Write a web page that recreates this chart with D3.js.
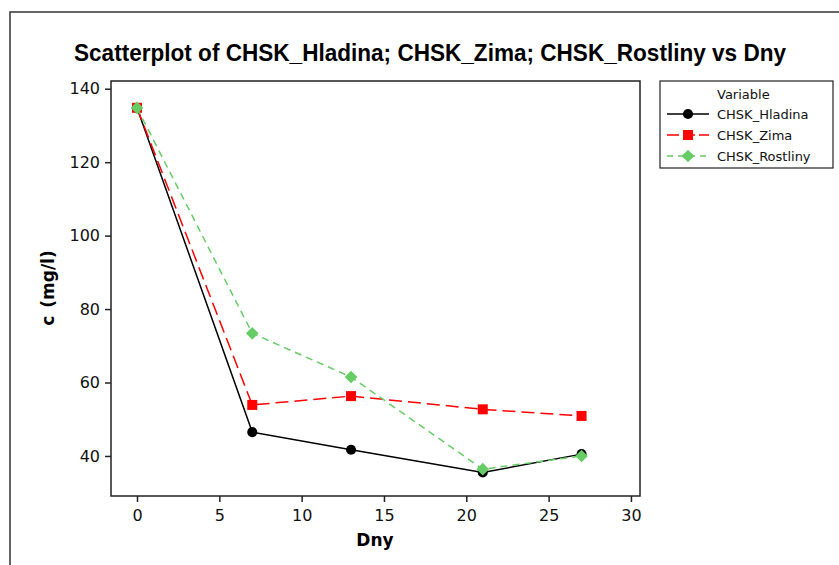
<!DOCTYPE html>
<html>
<head>
<meta charset="utf-8">
<script src="https://cdn.jsdelivr.net/npm/d3@7"></script>
<style>
  html, body { margin: 0; padding: 0; background: #fff; }
  svg { display: block; }
</style>
</head>
<body>
<svg id="chart" width="839" height="565"></svg>
<script>
// Sampling days and measured COD values (mg/l) per series
const days = [0, 7, 13, 21, 27];
const hladina = [134.8, 46.5, 41.7, 35.5, 40.5];
const zima = [134.8, 53.9, 56.3, 52.7, 50.9];
const rostliny = [134.8, 73.4, 61.5, 36.4, 40.0];

const seriesNames = ["CHSK_Hladina", "CHSK_Zima", "CHSK_Rostliny"];
const xTicks = [0, 5, 10, 15, 20, 25, 30];
const yTicks = [40, 60, 80, 100, 120, 140];

const svg = d3.select("#chart");
const W = 839, H = 565;
const plot = { left: 111, right: 640, top: 81, bottom: 496 };

// Outer graph frame (runs off the right and bottom edge)
svg.append("rect")
  .attr("x", 10).attr("y", 12)
  .attr("width", W + 20).attr("height", H + 20)
  .attr("fill", "none").attr("stroke", "#333").attr("stroke-width", 1.5);

const x = d3.scaleLinear().domain([-1.579, 30.55]).range([plot.left, plot.right]);
const y = d3.scaleLinear().domain([29.1, 142.1]).range([plot.bottom, plot.top]);

// Title
svg.append("text")
  .attr("x", 430).attr("y", 61)
  .attr("text-anchor", "middle")
  .attr("font-family", "'Liberation Sans', Arial, sans-serif")
  .attr("font-weight", "bold")
  .attr("font-size", 23)
  .attr("textLength", 712)
  .attr("lengthAdjust", "spacingAndGlyphs")
  .attr("fill", "#000")
  .text("Scatterplot of CHSK_Hladina; CHSK_Zima; CHSK_Rostliny vs Dny");

// Axes
const axisFont = "'DejaVu Sans', sans-serif";
const gx = svg.append("g")
  .attr("transform", `translate(0,${plot.bottom})`)
  .call(d3.axisBottom(x).tickValues(xTicks).tickSize(6).tickSizeOuter(0).tickPadding(8));
const gy = svg.append("g")
  .attr("transform", `translate(${plot.left},0)`)
  .call(d3.axisLeft(y).tickValues(yTicks).tickSize(6).tickSizeOuter(0).tickPadding(5));
[gx, gy].forEach(g => {
  g.select(".domain").remove();
  g.selectAll(".tick line").attr("stroke", "#222").attr("stroke-width", 1.5);
  g.selectAll(".tick text")
    .attr("font-family", axisFont).attr("font-size", 16).attr("fill", "#111");
});

// Plot frame
svg.append("rect")
  .attr("x", plot.left).attr("y", plot.top)
  .attr("width", plot.right - plot.left).attr("height", plot.bottom - plot.top)
  .attr("fill", "none").attr("stroke", "#222").attr("stroke-width", 1.5);

// Axis titles
svg.append("text")
  .attr("x", 375).attr("y", 546)
  .attr("text-anchor", "middle")
  .attr("font-family", axisFont).attr("font-weight", "bold").attr("font-size", 17)
  .text("Dny");
svg.append("text")
  .attr("transform", "translate(54,288) rotate(-90)")
  .attr("text-anchor", "middle")
  .attr("font-family", axisFont).attr("font-weight", "bold").attr("font-size", 17)
  .attr("word-spacing", 2)
  .text("c (mg/l)");

// Series styling
const styles = [
  { values: hladina, color: "#000000", dash: null, legendDash: null, width: 1.5, symbol: d3.symbolCircle, size: 80, rotate: 0 },
  { values: zima, color: "#ff0000", dash: "13,6", legendDash: "12,4", width: 1.5, symbol: d3.symbolSquare, size: 100, rotate: 0 },
  { values: rostliny, color: "#66cc66", dash: "7,5", legendDash: "6,5", width: 1.5, symbol: d3.symbolSquare, size: 80, rotate: 45 }
];

const line = d3.line().x(d => x(d[0])).y(d => y(d[1]));

styles.forEach(s => {
  const pts = days.map((d, i) => [d, s.values[i]]);
  const g = svg.append("g");
  g.append("path")
    .attr("d", line(pts))
    .attr("fill", "none")
    .attr("stroke", s.color)
    .attr("stroke-width", s.width)
    .attr("stroke-dasharray", s.dash);
  g.selectAll("path.pt").data(pts).enter().append("path")
    .attr("class", "pt")
    .attr("transform", d => `translate(${x(d[0])},${y(d[1])}) rotate(${s.rotate})`)
    .attr("d", d3.symbol().type(s.symbol).size(s.size))
    .attr("fill", s.color);
});

// Legend
const lg = svg.append("g");
lg.append("rect")
  .attr("x", 660).attr("y", 81).attr("width", 173).attr("height", 87)
  .attr("fill", "#fff").attr("stroke", "#222").attr("stroke-width", 1.2);
lg.append("text")
  .attr("x", 717).attr("y", 99)
  .attr("font-family", axisFont).attr("font-size", 13).attr("fill", "#111")
  .text("Variable");
seriesNames.forEach((name, i) => {
  const s = styles[i];
  const yy = 114 + i * 21;
  lg.append("line")
    .attr("x1", 667).attr("x2", 709).attr("y1", yy).attr("y2", yy)
    .attr("stroke", s.color).attr("stroke-width", s.width)
    .attr("stroke-dasharray", s.legendDash);
  lg.append("path")
    .attr("transform", `translate(688,${yy}) rotate(${s.rotate})`)
    .attr("d", d3.symbol().type(s.symbol).size(s.size))
    .attr("fill", s.color);
  lg.append("text")
    .attr("x", 717).attr("y", yy + 5)
    .attr("font-family", axisFont).attr("font-size", 13).attr("fill", "#111")
    .text(name);
});
</script>
</body>
</html>
